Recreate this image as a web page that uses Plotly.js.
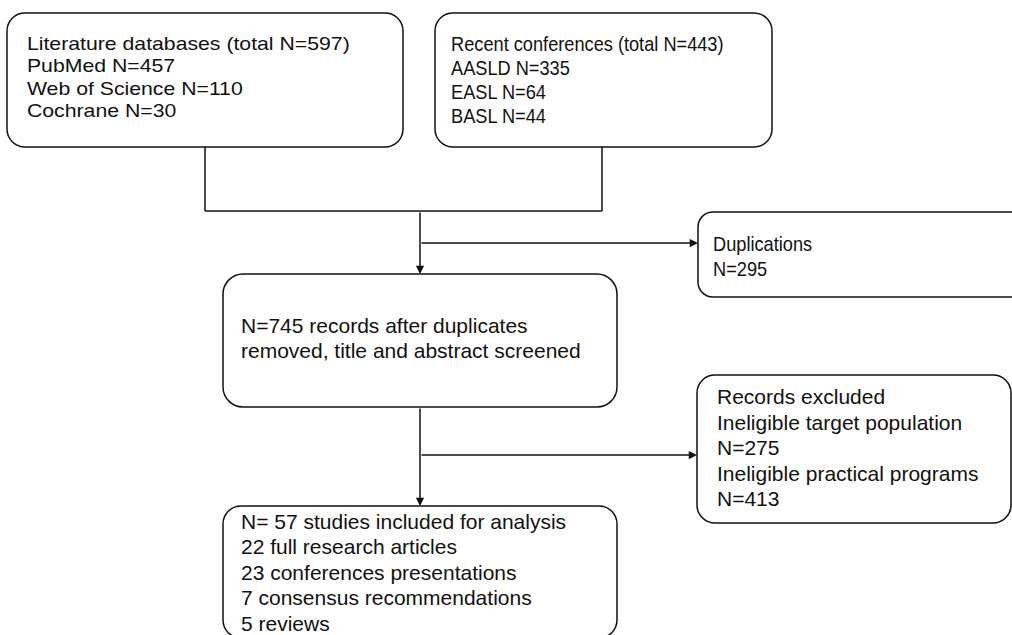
<!DOCTYPE html>
<html>
<head>
<meta charset="utf-8">
<script src="https://cdn.plot.ly/plotly-3.0.1.min.js"></script>
<style>
  html, body { margin: 0; padding: 0; background: #ffffff; }
  #chart { width: 1012px; height: 635px; }
</style>
</head>
<body>
<div id="chart"></div>
<script>
// ---- Text content (data) ----
const literatureLines = ['Literature databases (total N=597)', 'PubMed N=457', 'Web of Science N=110', 'Cochrane N=30'];
const conferenceLines = ['Recent conferences (total N=443)', 'AASLD N=335', 'EASL N=64', 'BASL N=44'];
const duplicationLines = ['Duplications', 'N=295'];
const screenedLines = ['N=745 records after duplicates', 'removed, title and abstract screened'];
const excludedLines = ['Records excluded', 'Ineligible target population', 'N=275', 'Ineligible practical programs', 'N=413'];
const includedLines = ['N= 57 studies included for analysis', '22 full research articles', '23 conferences presentations', '7 consensus recommendations', '5 reviews'];

// ---- Layout geometry (pixel-like coordinates, y downwards) ----
// hs = horizontal text scale (the reference figure's text is slightly stretched/condensed per box)
const boxes = [
  { lines: literatureLines, x0: 7, x1: 403, y0: 13, y1: 147, r: 18, tx: 25, ty: 43.5, dy: 22.3, size: 18.8, hs: 1.13 },
  { lines: conferenceLines, x0: 435, x1: 772, y0: 13, y1: 147, r: 18, tx: 449, ty: 43.5, dy: 24, size: 20, hs: 0.91 },
  { lines: duplicationLines, x0: 698, x1: 1040, y0: 212, y1: 297, r: 15, tx: 711, ty: 243.5, dy: 25.5, size: 20, hs: 0.91 },
  { lines: screenedLines, x0: 223, x1: 617, y0: 274, y1: 407, r: 20, tx: 239, ty: 325, dy: 25.5, size: 21, hs: 1 },
  { lines: excludedLines, x0: 697, x1: 1011, y0: 375, y1: 523, r: 18, tx: 715, ty: 396.5, dy: 25.5, size: 21, hs: 1 },
  { lines: includedLines, x0: 223, x1: 617, y0: 506, y1: 638, r: 18, tx: 239, ty: 521, dy: 25.5, size: 21, hs: 1 }
];

const plainLines = [
  [205, 147, 205, 211],
  [602, 147, 602, 211],
  [205, 211, 602, 211]
];
const arrows = [
  [420, 211, 420, 274],
  [420, 243, 698, 243],
  [420, 407, 420, 506],
  [420, 455, 697, 455]
];

const LINE_COLOR = '#111111';
const FONT = 'Liberation Sans, Arial, Helvetica, sans-serif';

function roundedPath(b) {
  const k = 0.5523 * b.r, r = b.r;
  const { x0, x1, y0, y1 } = b;
  return `M ${x0 + r},${y0} L ${x1 - r},${y0} ` +
    `C ${x1 - r + k},${y0} ${x1},${y0 + r - k} ${x1},${y0 + r} ` +
    `L ${x1},${y1 - r} ` +
    `C ${x1},${y1 - r + k} ${x1 - r + k},${y1} ${x1 - r},${y1} ` +
    `L ${x0 + r},${y1} ` +
    `C ${x0 + r - k},${y1} ${x0},${y1 - r + k} ${x0},${y1 - r} ` +
    `L ${x0},${y0 + r} ` +
    `C ${x0},${y0 + r - k} ${x0 + r - k},${y0} ${x0 + r},${y0} Z`;
}

const shapes = [];
const annotations = [];
const hscales = [];

boxes.forEach(b => {
  shapes.push({ type: 'path', xref: 'x', yref: 'y', path: roundedPath(b),
    line: { color: LINE_COLOR, width: 1.5 }, fillcolor: 'rgba(0,0,0,0)' });
  b.lines.forEach((t, i) => {
    annotations.push({ xref: 'x', yref: 'y', x: b.tx, y: b.ty + i * b.dy, text: t,
      showarrow: false, xanchor: 'left', yanchor: 'middle',
      font: { family: FONT, size: b.size, color: '#111111' } });
    hscales.push(b.hs);
  });
});

plainLines.forEach(l => {
  shapes.push({ type: 'line', xref: 'x', yref: 'y', x0: l[0], y0: l[1], x1: l[2], y1: l[3],
    line: { color: LINE_COLOR, width: 1.5 } });
});

arrows.forEach(a => {
  annotations.push({ xref: 'x', yref: 'y', axref: 'x', ayref: 'y',
    x: a[2], y: a[3], ax: a[0], ay: a[1], text: '', showarrow: true,
    arrowhead: 2, arrowsize: 1.1, arrowwidth: 1.5, arrowcolor: LINE_COLOR, standoff: 0 });
  hscales.push(1);
});

const layout = {
  width: 1012, height: 635,
  margin: { l: 0, r: 0, t: 0, b: 0, pad: 0 },
  paper_bgcolor: '#ffffff', plot_bgcolor: '#ffffff',
  xaxis: { range: [0, 1012], visible: false, fixedrange: true },
  yaxis: { range: [635, 0], visible: false, fixedrange: true },
  showlegend: false,
  shapes: shapes,
  annotations: annotations
};

function applyHScale() {
  document.querySelectorAll('#chart g.annotation').forEach(g => {
    const idx = parseInt(g.getAttribute('data-index'), 10);
    const s = hscales[idx];
    if (!s || s === 1) return;
    const t = g.querySelector('text.annotation-text');
    if (!t) return;
    const bb = t.getBBox();
    const prev = t.getAttribute('transform') || '';
    t.setAttribute('transform', (prev + ` translate(${bb.x},0) scale(${s},1) translate(${-bb.x},0)`).trim());
  });
}

Plotly.newPlot('chart', [{ x: [0], y: [0], type: 'scatter', mode: 'markers',
  marker: { opacity: 0 }, hoverinfo: 'skip' }], layout, { staticPlot: true, displayModeBar: false })
  .then(applyHScale);
</script>
</body>
</html>
